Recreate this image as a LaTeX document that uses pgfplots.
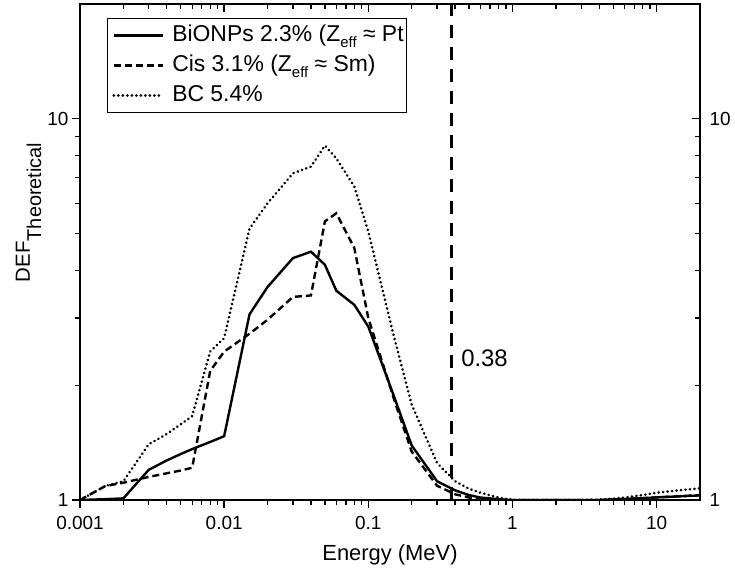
\documentclass[border=0pt]{standalone}
\usepackage{pgfplots}
\pgfplotsset{compat=1.18}
\usepackage{fontspec}
\setmainfont{Liberation Sans}
\newcommand{\lgf}{\fontsize{23}{27}\selectfont}
\newcommand{\sub}[1]{\raisebox{-0.25em}{\fontsize{15}{15}\selectfont #1}}
\begin{document}
\begin{tikzpicture}
\useasboundingbox (-80bp,-76bp) rectangle (655bp,500bp);
\begin{axis}[
  xmode=log, ymode=log,
  width=620bp, height=496bp, scale only axis,
  xmin=0.001, xmax=20, ymin=1, ymax=20,
  axis line style={line width=1.5bp},
  major tick style={black, line width=1.3bp},
  minor tick style={black, line width=1.3bp},
  major tick length=8bp, minor tick length=5bp,
  xtick={0.001,0.01,0.1,1,10},
  xticklabels={0.001,0.01,0.1,1,10},
  ytick={1,10},
  yticklabels={1,10},
  tick label style={font=\fontsize{19}{22}\selectfont},
  xticklabel style={yshift=-5bp},
  xtick pos=left, ytick pos=left, tick align=outside,
  xlabel={Energy (MeV)},
  ylabel={\fontsize{20.5}{25}\selectfont DEF\raisebox{-0.55em}{\fontsize{20}{20}\selectfont Theoretical}},
  label style={font=\fontsize{22}{26}\selectfont},
  xlabel style={at={(axis description cs:0.5,-0.11)}, anchor=center},
  ylabel style={at={(axis description cs:-0.083,0.58)}, anchor=center},
  legend style={at={(axis description cs:0.0435,0.972)}, anchor=north west,
    draw=black, line width=1bp, fill=white,
    font=\lgf, inner xsep=3bp, inner ysep=6bp,
    nodes={inner sep=0bp, text height=17bp, text depth=5bp},
    row sep=8bp, cells={anchor=west}},
  legend image code/.code={\draw[#1] (2bp,0bp) -- (51bp,0bp); \path (0bp,0bp) (59bp,0bp);},
]
\addplot[black, line width=2.4bp] table {
0.001 1.0
0.0015 1.005
0.002 1.01
0.003 1.20
0.004 1.27
0.005 1.32
0.006 1.36
0.008 1.42
0.01 1.47
0.015 3.07
0.02 3.62
0.03 4.31
0.04 4.48
0.05 4.14
0.06 3.54
0.08 3.25
0.1 2.85
0.15 1.88
0.2 1.39
0.3 1.12
0.4 1.06
0.5 1.03
0.6 1.015
0.8 1.005
1 1.0
1.5 1.0
2 1.0
3 1.0
4 1.0
5 1.003
6 1.006
8 1.011
10 1.016
15 1.023
20 1.028
};
\addlegendentry{\lgf BiONPs 2.3\% (Z\sub{eff} ≈ Pt}
\addplot[black, line width=2.4bp, dash pattern=on 7bp off 4bp] table {
0.001 1.0
0.0015 1.088
0.002 1.11
0.003 1.15
0.004 1.175
0.005 1.195
0.006 1.215
0.008 2.18
0.01 2.45
0.015 2.73
0.02 2.97
0.03 3.41
0.04 3.44
0.05 5.38
0.06 5.65
0.08 4.58
0.1 3.0
0.15 1.85
0.2 1.34
0.3 1.09
0.4 1.035
0.5 1.015
0.6 1.008
0.8 1.002
1 1.0
1.5 1.0
2 1.0
3 1.0
4 1.0
5 1.003
6 1.006
8 1.011
10 1.016
15 1.024
20 1.03
};
\addlegendentry{\lgf Cis 3.1\% (Z\sub{eff} ≈ Sm)}
\addplot[black, line width=2.8bp, line cap=round, dash pattern=on 0.1bp off 4.4bp] table {
0.001 1.0
0.0015 1.088
0.002 1.12
0.003 1.40
0.004 1.49
0.005 1.58
0.006 1.66
0.008 2.45
0.01 2.66
0.015 5.15
0.02 6.0
0.03 7.19
0.04 7.49
0.05 8.5
0.06 7.87
0.08 6.64
0.1 5.06
0.15 2.70
0.2 1.78
0.3 1.25
0.4 1.12
0.5 1.07
0.6 1.045
0.8 1.015
1 1.0
1.5 1.0
2 1.0
3 1.0
4 1.002
5 1.008
6 1.015
8 1.03
10 1.045
15 1.062
20 1.073
};
\addlegendentry{\lgf BC 5.4\%}
\addplot[black, line width=2.8bp, dash pattern=on 13bp off 9bp, forget plot] coordinates {(0.38,1) (0.38,20)};
\node[anchor=west, inner sep=0, font=\fontsize{24}{28}\selectfont] at (axis cs:0.44,2.35) {0.38};
\end{axis}
\begin{axis}[
  xmode=log, ymode=log,
  width=620bp, height=496bp, scale only axis,
  xmin=0.001, xmax=20, ymin=1, ymax=20,
  axis line style={line width=1.5bp},
  major tick style={black, line width=1.3bp},
  minor tick style={black, line width=1.3bp},
  major tick length=8bp, minor tick length=5bp,
  xtick={0.001,0.01,0.1,1,10},
  xticklabels={},
  ytick={1,10},
  yticklabels={1,10},
  tick label style={font=\fontsize{19}{22}\selectfont},
  yticklabel style={xshift=6bp},
  xtick pos=right, ytick pos=right, tick align=inside,
  yticklabel pos=right,
]
\addplot[draw=none, forget plot] coordinates {(1,1)};
\end{axis}
\end{tikzpicture}
\end{document}
